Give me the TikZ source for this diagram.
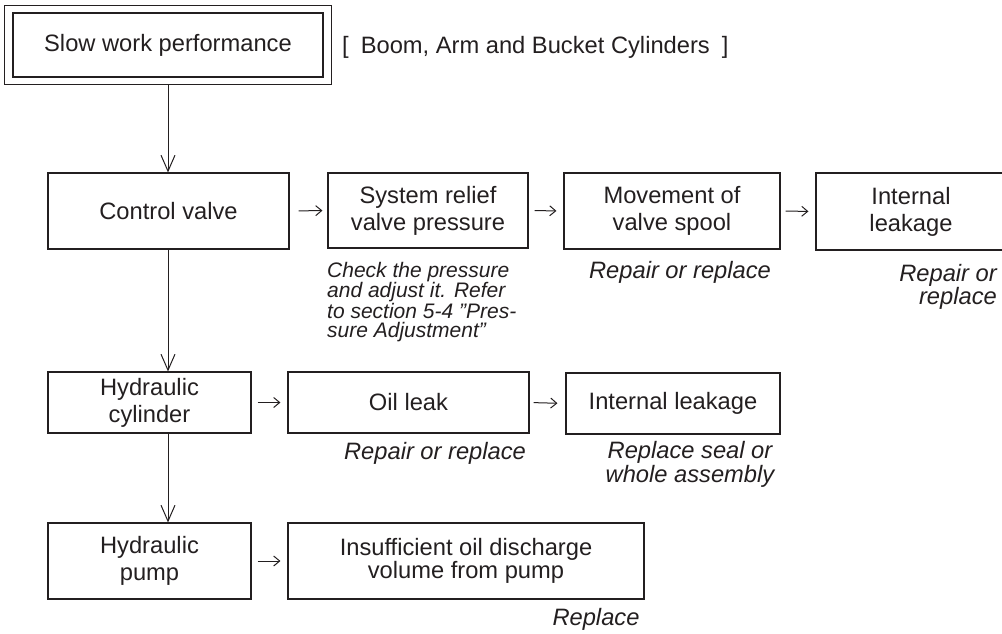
\documentclass[tikz,border=0pt]{standalone}
\usepackage{fontspec}
\setmainfont{Liberation Sans}
\usetikzlibrary{arrows.meta,fit}
\definecolor{ink}{RGB}{35,31,32}
\begin{document}
\begin{tikzpicture}[x=1pt,y=-1pt,
  every node/.style={text=ink},
  box/.style={draw=ink, line width=1.1pt, inner sep=0pt, align=center,
    font=\fontsize{23.7}{27}\selectfont},
  plain/.style={inner sep=0pt, font=\fontsize{23.7}{27}\selectfont},
  note/.style={inner sep=0pt, font=\fontsize{23.7}{23}\selectfont\itshape},
  down/.style={draw=ink, line width=1pt,
    -{Straight Barb[length=16pt,width=14pt,line width=1pt]}},
  next/.style={draw=ink, line width=1pt,
    -{Straight Barb[length=6pt,width=10pt,line width=1pt]},
    shorten <=6pt, shorten >=7pt}]
\useasboundingbox (0,0) rectangle (1002,634);
\begin{scope}
\clip (0,0) rectangle (1002,634);

% heading: symptom in a double frame, and the units concerned
\node[box, minimum width=310pt, minimum height=64pt] (slow) at (168,45) {Slow work performance};
\node[draw=ink, line width=1.1pt, inner xsep=8pt, inner ysep=7pt, fit=(slow)] (slowframe) {};
\node[plain, anchor=west] (units) at (342,47) {[\hspace{12pt}Boom, Arm and Bucket Cylinders\hspace{12pt}]};

% first row: control valve
\node[box, minimum width=241pt, minimum height=76pt] (cv) at (168.5,211) {Control valve};
\node[box, minimum width=200pt, minimum height=75pt] (srv) at (428,210.5) {System relief\\valve pressure};
\node[box, minimum width=216pt, minimum height=76pt] (mvs) at (672,211) {Movement of\\valve spool};
\node[box, minimum width=190pt, minimum height=77pt] (ilka) at (911,211.5) {Internal\\leakage};

\node[inner sep=0pt, anchor=north west, align=left,
  font=\fontsize{21}{19}\selectfont\itshape] (check) at (327,262)
  {Check the pressure\\and adjust it. Refer\\to section 5-4 \textquotedblright Pres-\\sure Adjustment\textquotedblright};
\node[note] (rmvs) at (680,272) {Repair or replace};
\node[note, anchor=north east, align=right, font=\fontsize{23.7}{22}\selectfont\itshape] (rilka) at (997,264) {Repair or\\replace};

% second row: hydraulic cylinder
\node[box, minimum width=203pt, minimum height=61pt] (hc) at (149.5,402.5) {Hydraulic\\cylinder};
\node[box, minimum width=241pt, minimum height=61pt] (oil) at (408.5,402.5) {Oil leak};
\node[box, minimum width=214pt, minimum height=61pt] (ilkb) at (673,403.5) {Internal leakage};

\node[note] (roil) at (435,453) {Repair or replace};
\node[note, align=center, font=\fontsize{23.7}{24}\selectfont\itshape] (rilkb) at (690,464) {Replace seal or\\whole assembly};

% third row: hydraulic pump
\node[box, minimum width=203pt, minimum height=76pt] (hp) at (149.5,561) {Hydraulic\\pump};
\node[box, minimum width=356pt, minimum height=76pt, font=\fontsize{23.7}{23}\selectfont] (ins) at (466,561) {Insufficient oil discharge\\volume from pump};
\node[note] (rins) at (596,619) {Replace};

% checking order, top to bottom
\draw[down] (slowframe.south) -- (slowframe.south |- cv.north);
\draw[down] (slowframe.south |- cv.south) -- (slowframe.south |- hc.north);
\draw[down] (slowframe.south |- hc.south) -- (slowframe.south |- hp.north);

% causes to check, left to right
\draw[next, shorten <=9pt, shorten >=5pt] (cv.east) -- (srv.west);
\draw[next] (srv.east) -- (mvs.west);
\draw[next, shorten <=5pt] (mvs.east) -- (ilka.west);
\draw[next] (hc.east) -- (oil.west);
\draw[next, shorten <=4pt, shorten >=8pt] (oil.east) -- (ilkb.west);
\draw[next] (hp.east) -- (ins.west);
\end{scope}
\end{tikzpicture}
\end{document}
